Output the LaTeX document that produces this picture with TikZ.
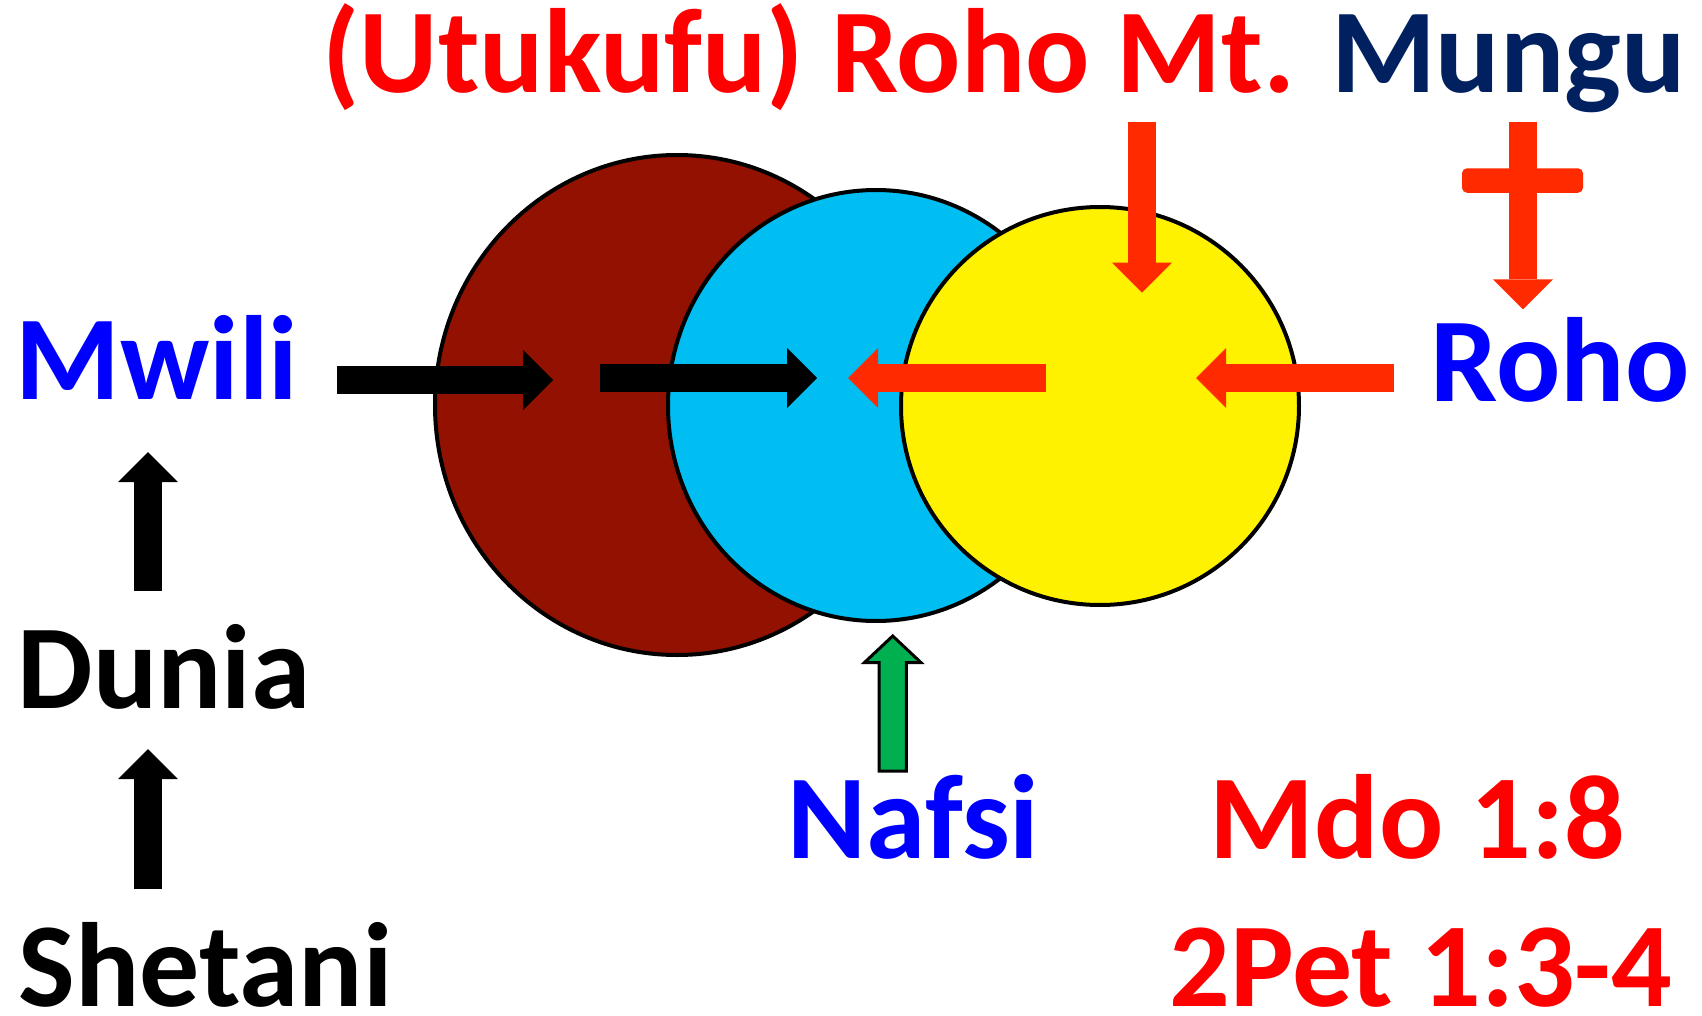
\documentclass[tikz,border=0pt]{standalone}
\usepackage{fontspec}
\setmainfont{Carlito}
\usepackage{tikz}
\usetikzlibrary{arrows.meta,shapes.geometric}
\definecolor{brn}{HTML}{931100}
\definecolor{sky}{HTML}{00BEF2}
\definecolor{arrred}{HTML}{FF2A00}
\definecolor{navy}{HTML}{002060}
\definecolor{grn}{HTML}{00B050}

\begin{document}
\begin{tikzpicture}[
  txt/.style={anchor=base,inner sep=0pt,font=\fontsize{34.1}{40}\selectfont\bfseries},
  blk/.style={line width=2.8mm,-{Triangle[length=3mm,width=6mm,line width=0pt]}},
  disc/.style={ellipse,draw=black,line width=0.4mm,inner sep=0pt}]
  \useasboundingbox (0,0) rectangle (17.02,-10.16);
  \fill[white] (0,0) rectangle (17.02,-10.16);
  \node[disc,fill=brn,minimum width=4.84cm,minimum height=5cm] (mwili) at (6.77,-4.05) {};
  \node[disc,fill=sky,minimum width=4.16cm,minimum height=4.31cm] (nafsi) at (8.76,-4.055) {};
  \node[disc,fill=yellow,minimum width=3.98cm,minimum height=3.98cm] (roho) at (11.0,-4.06) {};
  \node[txt,text=red] (kichwa) at (10.04,-0.92) {(Utukufu) Roho Mt. \textcolor{navy}{Mungu}};
  \node[txt,text=blue] (tmwili) at (1.57,-3.995) {Mwili};
  \node[txt,text=blue] (troho) at (15.60,-4.016) {Roho};
  \node[txt] (tdunia) at (1.64,-7.08) {Dunia};
  \node[txt] (tshetani) at (2.055,-10.06) {Shetani};
  \node[txt,text=blue] (tnafsi) at (9.135,-8.58) {Nafsi};
  \node[txt,text=red] (tmdo) at (14.175,-8.58) {Mdo 1:8};
  \node[txt,text=red] (tpet) at (14.21,-10.06) {2Pet 1:3-4};
  \coordinate (m1) at (3.365,-3.80);
  \coordinate (m2) at (5.53,-3.80);
  \draw[blk] (m1) to (m2);
  \coordinate (n1) at (6.0,-3.78);
  \coordinate (n2) at (8.17,-3.78);
  \draw[blk] (n1) to (n2);
  \coordinate (r1) at (10.46,-3.78);
  \coordinate (r2) at (8.48,-3.78);
  \draw[blk,arrred] (r1) to (r2);
  \coordinate (s1) at (13.94,-3.78);
  \coordinate (s2) at (11.96,-3.78);
  \draw[blk,arrred] (s1) to (s2);
  \coordinate (g1) at (11.42,-1.216);
  \coordinate (g2) at (11.42,-2.927);
  \draw[blk,arrred] (g1) to (g2);
  \coordinate (k1) at (15.23,-1.216);
  \coordinate (k2) at (15.23,-3.094);
  \draw[blk,arrred] (k1) to (k2);
  \node[rectangle,fill=arrred,rounded corners=0.5mm,inner sep=0pt,minimum width=1.21cm,minimum height=0.245cm] (bar) at (15.225,-1.805) {};
  \coordinate (d1) at (1.48,-5.91);
  \coordinate (d2) at (1.48,-4.52);
  \draw[blk] (d1) to (d2);
  \coordinate (e1) at (1.48,-8.89);
  \coordinate (e2) at (1.48,-7.49);
  \draw[blk] (e1) to (e2);
  \draw[fill=grn,line width=0.3mm] (8.79,-7.71) -- (8.79,-6.625) -- (8.645,-6.625) -- (8.927,-6.36)
    -- (9.209,-6.625) -- (9.064,-6.625) -- (9.064,-7.71) -- cycle;
\end{tikzpicture}
\end{document}
